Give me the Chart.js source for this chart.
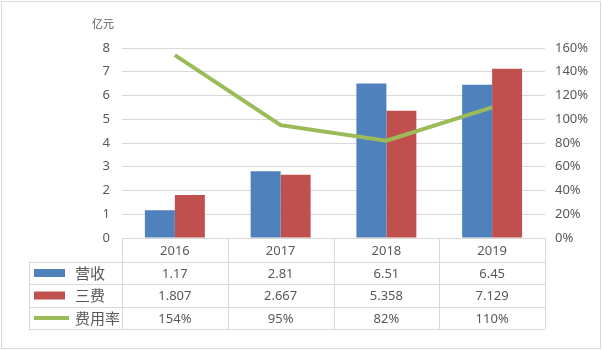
<!DOCTYPE html>
<html>
<head>
<meta charset="utf-8">
<script src="https://cdn.jsdelivr.net/npm/chart.js@4/dist/chart.umd.min.js"></script>
<style>
  body { margin: 0; background: #fff; }
</style>
</head>
<body>
<canvas id="chart" width="602" height="350"></canvas>
<script>
const years = ["2016", "2017", "2018", "2019"];
const revenue = [1.17, 2.81, 6.51, 6.45];
const costs = [1.807, 2.667, 5.358, 7.129];
const rate = [154, 95, 82, 110];
const seriesNames = ["营收", "三费", "费用率"];
const unitLabel = "亿元";

const textColor = "#595959";
const gridColor = "#D9D9D9";
const numFont = "'Noto Sans', 'DejaVu Sans', sans-serif";
const cjkFont = "'Noto Sans CJK SC', sans-serif";

// draws the data table under the plot + the outer frame
const dataTable = {
  id: "dataTable",
  afterDraw(chart) {
    const ctx = chart.ctx;
    const area = chart.chartArea;
    const x = chart.scales.x;
    const top = area.bottom;
    const rows = [top + 24, top + 46, top + 69, top + 91];
    const left = 29;
    const colW = (area.right - area.left) / years.length;

    ctx.save();
    ctx.strokeStyle = gridColor;
    ctx.lineWidth = 1;
    ctx.beginPath();
    // vertical lines
    for (let i = 0; i <= years.length; i++) {
      const vx = Math.round(area.left + i * colW) + 0.5;
      ctx.moveTo(vx, top);
      ctx.lineTo(vx, rows[3]);
    }
    ctx.moveTo(left + 0.5, rows[0]);
    ctx.lineTo(left + 0.5, rows[3]);
    rows.forEach((ry) => {
      ctx.moveTo(left, Math.round(ry) + 0.5);
      ctx.lineTo(area.right, Math.round(ry) + 0.5);
    });
    ctx.stroke();

    // outer frame
    ctx.strokeRect(1.5, 1.5, 599, 347);

    ctx.fillStyle = textColor;
    ctx.textAlign = "center";
    ctx.textBaseline = "middle";
    ctx.font = "13px " + numFont;
    const cells = [
      years,
      revenue.map(String),
      costs.map(String),
      rate.map((v) => v + "%"),
    ];
    const rowTops = [top, rows[0], rows[1], rows[2]];
    const rowBots = rows;
    cells.forEach((row, r) => {
      const cy = (rowTops[r] + rowBots[r]) / 2 + 1;
      row.forEach((txt, i) => {
        ctx.fillText(txt, x.getPixelForValue(i), cy);
      });
    });

    // legend keys
    for (let r = 1; r <= 3; r++) {
      const cy = (rowTops[r] + rowBots[r]) / 2;
      const ds = chart.data.datasets[r - 1];
      if (ds.type === "line") {
        ctx.strokeStyle = ds.borderColor;
        ctx.lineWidth = 4;
        ctx.beginPath();
        ctx.moveTo(34, cy);
        ctx.lineTo(69, cy);
        ctx.stroke();
      } else {
        ctx.fillStyle = ds.backgroundColor;
        ctx.fillRect(34, cy - 4, 31, 8);
      }
      ctx.fillStyle = textColor;
      ctx.textAlign = "left";
      ctx.font = "15px " + cjkFont;
      ctx.fillText(seriesNames[r - 1], 75, cy);
    }

    // unit label
    ctx.font = "11px " + cjkFont;
    ctx.textAlign = "center";
    ctx.fillText(unitLabel, 103, 24);
    ctx.restore();
  },
};

const ctx = document.getElementById("chart");
new Chart(ctx, {
  type: "bar",
  data: {
    labels: years,
    datasets: [
      {
        label: seriesNames[0],
        data: revenue,
        backgroundColor: "#4F81BD",
        yAxisID: "y",
        order: 1,
      },
      {
        label: seriesNames[1],
        data: costs,
        backgroundColor: "#C0504D",
        yAxisID: "y",
        order: 1,
      },
      {
        type: "line",
        label: seriesNames[2],
        data: rate,
        borderColor: "#9BBB59",
        borderWidth: 4,
        pointRadius: 0,
        tension: 0,
        yAxisID: "y2",
        order: 0,
      },
    ],
  },
  options: {
    responsive: false,
    animation: false,
    layout: { padding: { top: 48, bottom: 112, left: 0, right: 0 } },
    datasets: {
      bar: { categoryPercentage: 0.567, barPercentage: 1 },
    },
    plugins: {
      legend: { display: false },
      tooltip: { enabled: false },
    },
    scales: {
      x: { display: false },
      y: {
        position: "left",
        min: 0,
        max: 8,
        ticks: { stepSize: 1, padding: 12, color: textColor, font: { size: 13, family: numFont } },
        grid: { color: gridColor, drawTicks: false },
        border: { display: false },
        afterFit(scale) { scale.width = 122; },
      },
      y2: {
        position: "right",
        min: 0,
        max: 160,
        ticks: {
          stepSize: 20,
          padding: 10,
          color: textColor,
          font: { size: 13, family: numFont },
          callback: (v) => v + "%",
        },
        grid: { display: false, drawTicks: false },
        border: { display: false },
        afterFit(scale) { scale.width = 57; },
      },
    },
  },
  plugins: [dataTable],
});
</script>
</body>
</html>
